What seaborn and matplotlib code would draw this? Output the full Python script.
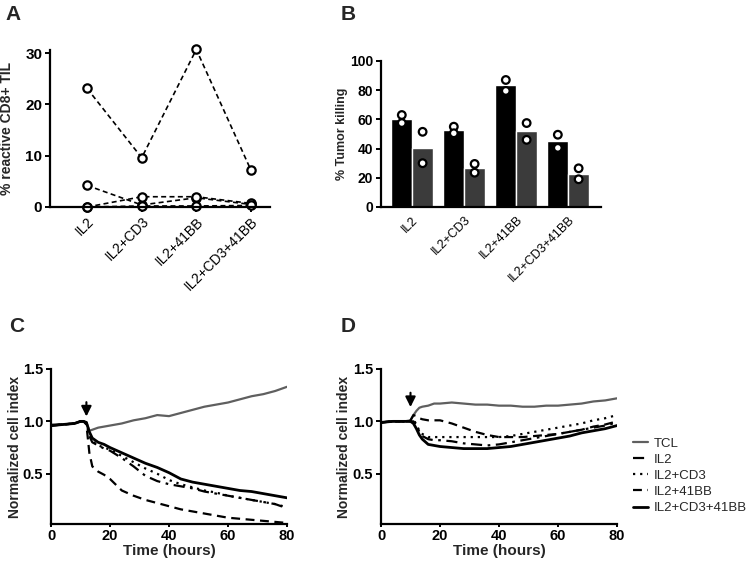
import matplotlib
matplotlib.use("Agg")
import matplotlib.pyplot as plt
import pandas as pd
import seaborn as sns

# ---- data -------------------------------------------------------------
conditions = ["IL2", "IL2+CD3", "IL2+41BB", "IL2+CD3+41BB"]

# panel A: % reactive CD8+ TIL, one list per patient
reactive_p1 = [23.1, 9.6, 30.7, 7.2]
reactive_p2 = [4.2, 0.4, 1.8, 0.5]
reactive_p3 = [0.0, 2.0, 2.0, 0.7]
reactive_p4 = [0.0, 0.2, 0.2, 0.3]

# panel B: % tumor killing, two replicates for each target
killing_t1_r1 = [63.0, 55.0, 87.0, 49.5]
killing_t1_r2 = [57.5, 50.5, 79.5, 40.5]
killing_t2_r1 = [51.5, 29.5, 57.5, 26.5]
killing_t2_r2 = [30.0, 23.5, 46.0, 19.0]

# panels C / D: normalized cell index over time
hours = [0, 4, 8, 10, 11, 12, 13, 14, 16, 18, 20, 24, 28, 32, 36, 40,
         44, 48, 52, 56, 60, 64, 68, 72, 76, 80]

c_tcl = [0.97, 0.97, 0.98, 1.00, 1.00, 0.99, 0.91, 0.92, 0.94, 0.95, 0.96, 0.98, 1.01,
         1.03, 1.06, 1.05, 1.08, 1.11, 1.14, 1.16, 1.18, 1.21, 1.24, 1.26, 1.29, 1.33]
c_il2 = [0.96, 0.97, 0.98, 1.00, 1.00, 0.98, 0.86, 0.80, 0.77, 0.74, 0.72, 0.65, 0.57,
         0.48, 0.43, 0.40, 0.38, 0.36, 0.33, 0.31, 0.29, 0.27, 0.25, 0.23, 0.21, 0.17]
c_cd3 = [0.96, 0.97, 0.98, 1.00, 1.00, 0.98, 0.88, 0.81, 0.77, 0.75, 0.73, 0.67, 0.61,
         0.55, 0.50, 0.44, 0.40, 0.37, 0.34, 0.32, 0.29, 0.27, 0.25, 0.23, 0.21, 0.18]
c_41bb = [0.96, 0.97, 0.98, 1.00, 1.00, 0.97, 0.70, 0.57, 0.52, 0.49, 0.45, 0.34, 0.29,
          0.25, 0.22, 0.19, 0.16, 0.14, 0.12, 0.10, 0.08, 0.07, 0.06, 0.05, 0.04, 0.03]
c_cd3_41bb = [0.96, 0.97, 0.98, 1.00, 1.00, 0.99, 0.90, 0.84, 0.80, 0.78, 0.75, 0.70, 0.65,
              0.60, 0.56, 0.51, 0.45, 0.42, 0.40, 0.38, 0.36, 0.34, 0.33, 0.31, 0.29, 0.27]

d_tcl = [0.99, 1.00, 1.00, 1.01, 1.06, 1.10, 1.13, 1.14, 1.15, 1.17, 1.17, 1.18, 1.17,
         1.16, 1.16, 1.15, 1.15, 1.14, 1.14, 1.15, 1.15, 1.16, 1.17, 1.19, 1.20, 1.22]
d_il2 = [0.99, 1.00, 1.00, 1.00, 1.00, 0.96, 0.90, 0.86, 0.83, 0.82, 0.82, 0.81, 0.79,
         0.78, 0.77, 0.78, 0.80, 0.82, 0.84, 0.86, 0.88, 0.90, 0.92, 0.94, 0.96, 0.99]
d_cd3 = [0.99, 1.00, 1.00, 1.00, 1.02, 0.97, 0.91, 0.88, 0.85, 0.85, 0.85, 0.85, 0.85,
         0.85, 0.85, 0.85, 0.86, 0.88, 0.90, 0.92, 0.94, 0.96, 0.98, 1.01, 1.03, 1.06]
d_41bb = [0.99, 1.00, 1.00, 1.01, 1.06, 1.05, 1.03, 1.02, 1.01, 1.01, 1.01, 0.98, 0.94,
          0.90, 0.87, 0.85, 0.85, 0.85, 0.86, 0.87, 0.88, 0.90, 0.92, 0.95, 0.97, 1.00]
d_cd3_41bb = [0.99, 1.00, 1.00, 1.00, 0.98, 0.93, 0.87, 0.83, 0.78, 0.77, 0.76, 0.75, 0.74,
              0.74, 0.74, 0.75, 0.76, 0.78, 0.80, 0.82, 0.84, 0.86, 0.89, 0.91, 0.93, 0.96]

series_names = ["TCL", "IL2", "IL2+CD3", "IL2+41BB", "IL2+CD3+41BB"]
series_styles = {
    "TCL": dict(color="#5f5f5f", ls="-", lw=1.6),
    "IL2": dict(color="black", ls=(0, (5, 2.5, 1.2, 2.5)), lw=1.6),
    "IL2+CD3": dict(color="black", ls=(0, (1, 2.2)), lw=1.6),
    "IL2+41BB": dict(color="black", ls=(0, (4, 2.5)), lw=1.6),
    "IL2+CD3+41BB": dict(color="black", ls="-", lw=2.0),
}

# ---- style ------------------------------------------------------------
sns.set_theme(style="ticks")
plt.rcParams["font.family"] = ["Liberation Sans", "DejaVu Sans"]
plt.rcParams["axes.linewidth"] = 1.6
plt.rcParams["xtick.major.width"] = 1.4
plt.rcParams["ytick.major.width"] = 1.4
plt.rcParams["xtick.major.size"] = 3.5
plt.rcParams["ytick.major.size"] = 3.5
plt.rcParams["xtick.major.pad"] = 2
plt.rcParams["ytick.major.pad"] = 2
plt.rcParams["xtick.color"] = "black"
plt.rcParams["ytick.color"] = "black"
plt.rcParams["axes.edgecolor"] = "black"

fig = plt.figure(figsize=(7.5, 5.69), dpi=100)
W, H = 750, 569


def add_ax(left, top, right, bottom):
    return fig.add_axes([left / W, 1 - bottom / H, (right - left) / W, (bottom - top) / H])


ax_a = add_ax(50, 50, 270, 207)
ax_b = add_ax(381, 61, 601, 207)
ax_c = add_ax(51, 369, 287, 524)
ax_d = add_ax(381, 369, 617, 524)

# ---- panel A ----------------------------------------------------------
df_a = pd.DataFrame({
    "condition": conditions * 4,
    "reactive": reactive_p1 + reactive_p2 + reactive_p3 + reactive_p4,
    "patient": sum([[p] * 4 for p in ["P1", "P2", "P3", "P4"]], []),
})
sns.lineplot(data=df_a, x="condition", y="reactive", units="patient", estimator=None,
             color="black", ls=(0, (3, 2)), lw=1.2, marker="o", ms=6,
             mfc="white", mec="black", mew=1.6, clip_on=False, ax=ax_a)
ax_a.set_xlim(-0.68, 3.35)
ax_a.set_ylim(0, 30.6)
ax_a.set_yticks([0, 10, 20, 30])
ax_a.set_xlabel("")
ax_a.set_ylabel("% reactive CD8+ TIL", fontsize=10, fontweight="bold")
ax_a.yaxis.set_label_coords(-0.165, 0.5)

# ---- panel B ----------------------------------------------------------
df_b = pd.DataFrame({
    "condition": conditions * 4,
    "killing": killing_t1_r1 + killing_t1_r2 + killing_t2_r1 + killing_t2_r2,
    "target": ["T1"] * 8 + ["T2"] * 8,
})
sns.barplot(data=df_b, x="condition", y="killing", hue="target", errorbar=None,
            palette=["black", "#3b3b3b"], width=0.8, legend=False, ax=ax_b)
sns.stripplot(data=df_b, x="condition", y="killing", hue="target", dodge=True, jitter=False,
              palette=["white", "white"], edgecolor="black", linewidth=1.6, size=5.5,
              legend=False, ax=ax_b)
ax_b.set_xlim(-0.6, 3.63)
ax_b.set_ylim(0, 100)
ax_b.set_yticks([0, 20, 40, 60, 80, 100])
ax_b.tick_params(axis="x", length=0, pad=5)
ax_b.set_xlabel("")
ax_b.set_ylabel("% Tumor killing", fontsize=9, fontweight="bold")
ax_b.yaxis.set_label_coords(-0.15, 0.5)

for ax, fs in [(ax_a, 10), (ax_b, 9)]:
    for lab in ax.get_xticklabels():
        lab.set_rotation(45)
        lab.set_ha("right")
        lab.set_rotation_mode("anchor")
        lab.set_fontsize(fs)
    for lab in ax.get_yticklabels():
        lab.set_fontweight("bold")
        lab.set_fontsize(fs + 1)

# ---- panels C / D -----------------------------------------------------
panel_c = dict(zip(series_names, [c_tcl, c_il2, c_cd3, c_41bb, c_cd3_41bb]))
panel_d = dict(zip(series_names, [d_tcl, d_il2, d_cd3, d_41bb, d_cd3_41bb]))

for ax, data, arrow_t, arrow_top, arrow_tip in [
    (ax_c, panel_c, 12, 1.21, 1.02),
    (ax_d, panel_d, 10, 1.30, 1.11),
]:
    for name in series_names:
        sns.lineplot(x=hours, y=data[name], ax=ax, label=name, **series_styles[name])
    ax.annotate("", xy=(arrow_t, arrow_tip), xytext=(arrow_t, arrow_top),
                arrowprops=dict(arrowstyle="-|>,head_width=0.25,head_length=0.5",
                                color="black", lw=1.5))
    ax.set_xlim(0, 80)
    ax.set_ylim(0.02, 1.5)
    ax.set_xticks([0, 20, 40, 60, 80])
    ax.set_yticks([0.5, 1.0, 1.5])
    ax.tick_params(axis="x", length=2, pad=1.5)
    ax.set_xlabel("Time (hours)", fontsize=11, fontweight="bold")
    ax.set_ylabel("Normalized cell index", fontsize=10, fontweight="bold")
    ax.xaxis.set_label_coords(0.5, -0.128)
    for lab in ax.get_xticklabels() + ax.get_yticklabels():
        lab.set_fontweight("bold")
        lab.set_fontsize(10.5)

ax_c.yaxis.set_label_coords(-0.125, 0.5)
ax_d.yaxis.set_label_coords(-0.125, 0.5)
ax_c.get_legend().remove()
handles, labels = ax_d.get_legend_handles_labels()
ax_d.get_legend().remove()
fig.legend(handles, labels, loc="upper left", bbox_to_anchor=(628 / W, 1 - 432 / H),
           frameon=False, fontsize=9.5, handlelength=1.1, handletextpad=0.45,
           labelspacing=0.3, borderaxespad=0)

sns.despine(fig=fig)

# ---- panel letters ----------------------------------------------------
for letter, x, y in [("A", 13, 14), ("B", 348, 14), ("C", 17, 326), ("D", 348, 326)]:
    fig.text(x / W, 1 - y / H, letter, fontsize=15, fontweight="bold",
             ha="center", va="center")

fig.savefig("out.png", dpi=100)
